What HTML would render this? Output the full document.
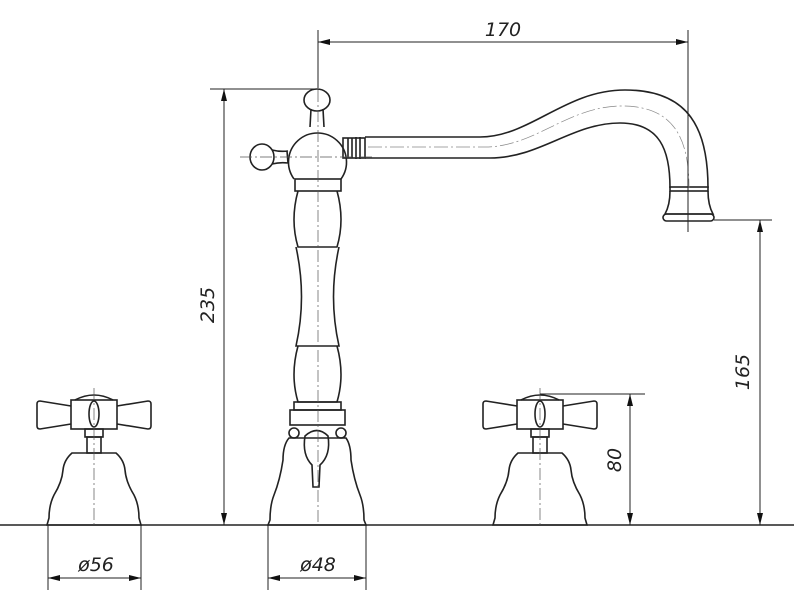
<!DOCTYPE html>
<html><head><meta charset="utf-8"><style>
html,body{margin:0;padding:0;background:#fff;}
svg{display:block;}
text{font-family:"DejaVu Sans","Liberation Sans",sans-serif;font-style:italic;font-size:19px;fill:#222;}
</style></head><body>
<svg width="794" height="606" viewBox="0 0 794 606" xmlns="http://www.w3.org/2000/svg">
<defs>
<marker id="a" viewBox="0 0 12 6" refX="12" refY="3" markerWidth="12" markerHeight="6" orient="auto-start-reverse" markerUnits="userSpaceOnUse"><path d="M0,0 L12,3 L0,6 z" fill="#111"/></marker>
<g id="h" fill="none" stroke="#222" stroke-width="1.6">
  <path d="M-23,406 L-54,401 Q-57,401 -57,404 L-57,426 Q-57,429 -54,429 L-23,424"/>
  <path d="M23,406 L54,401 Q57,401 57,404 L57,426 Q57,429 54,429 L23,424"/>
  <rect x="-23" y="400" width="46" height="29"/>
  <path d="M-19,400 Q0,390 19,400"/>
  <ellipse cx="0" cy="414" rx="5" ry="13"/>
  <rect x="-9" y="429" width="18" height="8"/>
  <rect x="-7" y="437" width="14" height="16"/>
  <path d="M-22,453 L22,453 Q30,460 31,470 Q32,482 40,495 Q45,505 45,518 L47,525 L-47,525 L-45,518 Q-45,505 -40,495 Q-32,482 -31,470 Q-30,460 -22,453 Z"/>
  <line x1="0" y1="388" x2="0" y2="525" stroke-width="0.7" stroke-dasharray="12,3,2,3" stroke="#555"/>
</g>
</defs>

<line x1="0" y1="525" x2="794" y2="525" stroke="#222" stroke-width="1.4"/>

<use href="#h" transform="translate(94,0)"/>
<use href="#h" transform="translate(540,0)"/>

<g fill="none" stroke="#222" stroke-width="1.6">
  <path d="M365,137 L480,137 C530,137 565,90 625,90 C690,90 708,130 708,188"/>
  <path d="M365,158 L490,158 C540,158 572,123 620,123 C660,123 670,150 670,188"/>
  <rect x="670" y="187" width="38" height="4"/>
  <path d="M670,191 Q670,205 665,214 L713,214 Q708,205 708,191"/>
  <rect x="663" y="214" width="51" height="7" rx="3.5"/>
  <path d="M368,147 L485,147 C535,147 568,106 622,106 C675,106 689,140 689,188" stroke="#888" stroke-width="0.7" stroke-dasharray="14,3,2,3"/>
  <rect x="343" y="138" width="22" height="20"/>
  <line x1="348" y1="138" x2="348" y2="158"/><line x1="352" y1="138" x2="352" y2="158"/>
  <line x1="356" y1="137" x2="356" y2="159"/><line x1="360" y1="137" x2="360" y2="159"/>
  <ellipse cx="317" cy="100" rx="13" ry="11"/>
  <path d="M311,109 L310,127 M323,109 L324,127"/>
  <path d="M294,179 A29,29 0 1 1 341,179"/>
  <ellipse cx="262" cy="157" rx="12" ry="13"/>
  <path d="M272,150 Q280,152 288,151 M272,164 Q280,162 288,163 M287,151 L288,163"/>
  <rect x="295" y="179" width="46" height="12"/>
  <path d="M298,191 Q290,220 298,247 L337,247 Q345,220 337,191"/>
  <path d="M296,247 Q307,297 296,346 L339,346 Q328,297 339,247"/>
  <path d="M298,346 Q290,375 298,402 L337,402 Q345,375 337,346"/>
  <rect x="294" y="402" width="47" height="8"/>
  <rect x="290" y="410" width="55" height="15"/>
  <circle cx="294" cy="433" r="5"/><circle cx="341" cy="433" r="5"/>
  <path d="M289,438 Q283,445 283,460 Q280,480 274,495 Q270,505 270,520 L268,525 L366,525 L364,520 Q364,505 360,495 Q354,480 351,460 Q351,445 346,438 Z"/>
  <path d="M305,436 Q302,455 312,465 L313,487 L319,487 L320,465 Q331,455 328,436 Q317,425 305,436 Z"/>
</g>

<g stroke="#555" stroke-width="0.7" stroke-dasharray="12,3,2,3" fill="none">
  <line x1="318" y1="30" x2="318" y2="525"/>
  <line x1="240" y1="157" x2="375" y2="157"/>
</g>

<g stroke="#222" stroke-width="1" fill="none">
  <line x1="318" y1="30" x2="318" y2="88"/>
  <line x1="688" y1="30" x2="688" y2="232"/>
  <line x1="318" y1="42" x2="688" y2="42" marker-start="url(#a)" marker-end="url(#a)"/>
  <line x1="210" y1="89" x2="316" y2="89"/>
  <line x1="224" y1="89" x2="224" y2="525" marker-start="url(#a)" marker-end="url(#a)"/>
  <line x1="714" y1="220" x2="772" y2="220"/>
  <line x1="760" y1="220" x2="760" y2="525" marker-start="url(#a)" marker-end="url(#a)"/>
  <line x1="540" y1="394" x2="645" y2="394"/>
  <line x1="630" y1="394" x2="630" y2="525" marker-start="url(#a)" marker-end="url(#a)"/>
  <line x1="48" y1="525" x2="48" y2="590"/><line x1="141" y1="525" x2="141" y2="590"/>
  <line x1="48" y1="578" x2="141" y2="578" marker-start="url(#a)" marker-end="url(#a)"/>
  <line x1="268" y1="525" x2="268" y2="590"/><line x1="366" y1="525" x2="366" y2="590"/>
  <line x1="268" y1="578" x2="366" y2="578" marker-start="url(#a)" marker-end="url(#a)"/>
</g>

<text x="503" y="36" text-anchor="middle">170</text>
<text transform="translate(214,305) rotate(-90)" text-anchor="middle">235</text>
<text transform="translate(749,372) rotate(-90)" text-anchor="middle">165</text>
<text transform="translate(621,460) rotate(-90)" text-anchor="middle">80</text>
<text x="96" y="571" text-anchor="middle">ø56</text>
<text x="318" y="571" text-anchor="middle">ø48</text>
</svg>
</body></html>
